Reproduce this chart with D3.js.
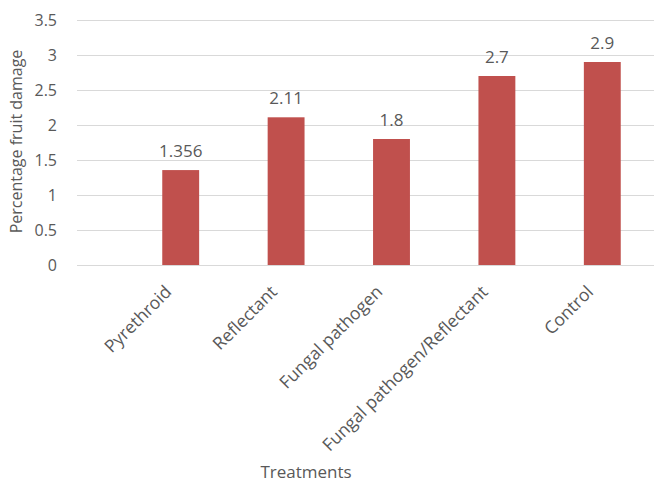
<!DOCTYPE html>
<html>
<head>
<meta charset="utf-8">
<script src="https://cdn.jsdelivr.net/npm/d3@7"></script>
<style>
  html, body { margin: 0; padding: 0; background: #ffffff; }
  svg { display: block; font-family: "Open Sans", "Liberation Sans", sans-serif; }
</style>
</head>
<body>
<svg id="chart" width="654" height="483"></svg>
<script>
// Percentage fruit damage by treatment
const categories = ["Pyrethroid", "Reflectant", "Fungal pathogen", "Fungal pathogen/Reflectant", "Control"];
const damage = [1.356, 2.11, 1.8, 2.7, 2.9];
const valueLabels = ["1.356", "2.11", "1.8", "2.7", "2.9"];
const yTicks = [0, 0.5, 1, 1.5, 2, 2.5, 3, 3.5];
const yTickLabels = ["0", "0.5", "1", "1.5", "2", "2.5", "3", "3.5"];

const svg = d3.select("#chart");
const textColor = "#595959";
const gridColor = "#d9d9d9";
const barColor = "#c0504d";

const gridLeft = 77, gridRight = 654;

const y = d3.scaleLinear().domain([0, 3.5]).range([265, 20]);
const x = d3.scaleBand()
  .domain(categories)
  .range([128, 655])
  .paddingInner(0.65)
  .paddingOuter(0.325);

// Horizontal gridlines and y tick labels
const yAxis = d3.axisLeft(y)
  .tickValues(yTicks)
  .tickFormat((d, i) => yTickLabels[i])
  .tickSize(-(gridRight - gridLeft))
  .tickPadding(20);

const gy = svg.append("g")
  .attr("transform", `translate(${gridLeft},0)`)
  .call(yAxis);
gy.select(".domain").remove();
gy.selectAll(".tick line").attr("stroke", gridColor).attr("stroke-width", 1);
gy.selectAll(".tick text")
  .attr("fill", textColor)
  .style("font-size", "16px")
  .style("font-family", "'Open Sans', sans-serif");

// Bars
svg.append("g").selectAll("rect")
  .data(damage)
  .join("rect")
  .attr("x", (d, i) => x(categories[i]))
  .attr("y", d => y(d))
  .attr("width", x.bandwidth())
  .attr("height", d => y(0) - y(d))
  .attr("fill", barColor);

// Value labels above bars
svg.append("g").selectAll("text")
  .data(damage)
  .join("text")
  .attr("x", (d, i) => x(categories[i]) + x.bandwidth() / 2)
  .attr("y", d => y(d) - 13)
  .attr("text-anchor", "middle")
  .attr("fill", textColor)
  .style("font-size", "17px")
  .text((d, i) => valueLabels[i]);

// Rotated category labels
svg.append("g").selectAll("text")
  .data(categories)
  .join("text")
  .attr("transform", d => `translate(${x(d) + x.bandwidth() / 2 - 8},293) rotate(-45)`)
  .attr("text-anchor", "end")
  .attr("fill", textColor)
  .style("font-size", "17.5px")
  .text(d => d);

// Axis titles
svg.append("text")
  .attr("x", 306)
  .attr("y", 478)
  .attr("text-anchor", "middle")
  .attr("fill", textColor)
  .style("font-size", "17px")
  .text("Treatments");

svg.append("text")
  .attr("transform", "translate(22,141.5) rotate(-90)")
  .attr("text-anchor", "middle")
  .attr("fill", textColor)
  .style("font-size", "16px")
  .text("Percentage fruit damage");
</script>
</body>
</html>
